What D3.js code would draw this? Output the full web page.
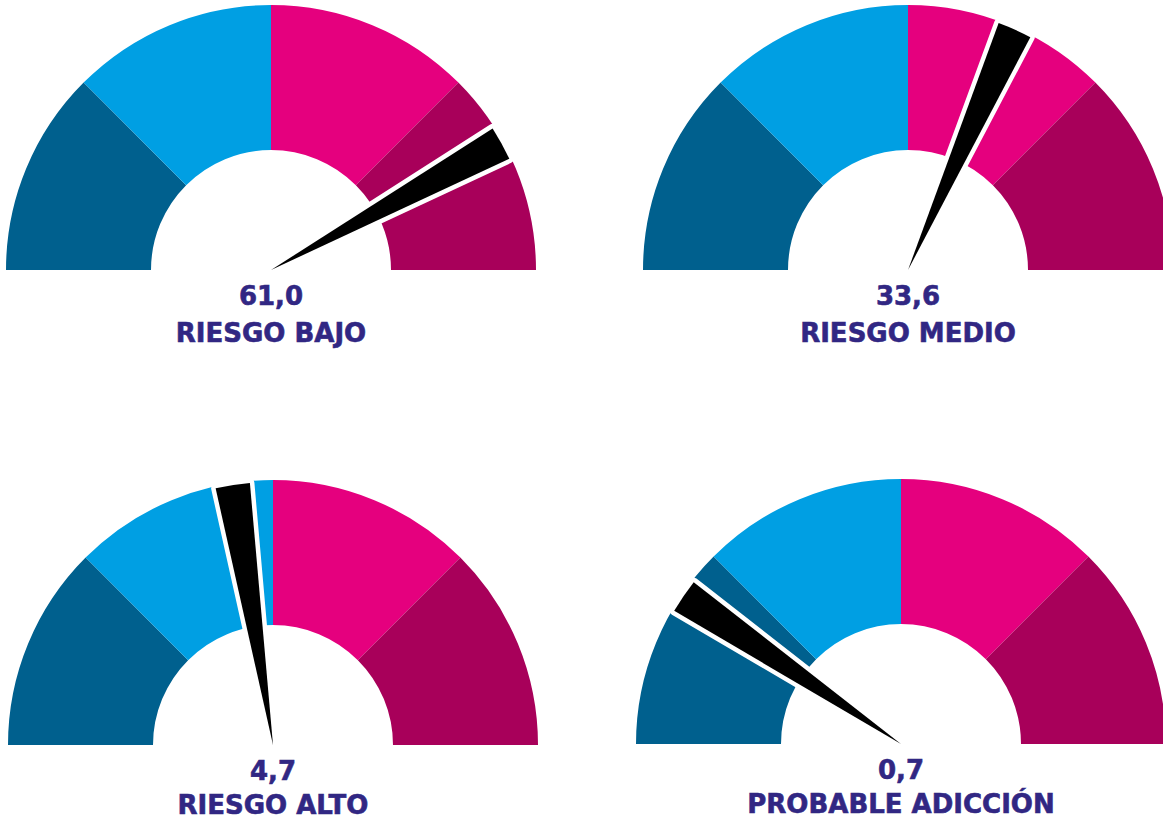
<!DOCTYPE html>
<html>
<head>
<meta charset="utf-8">
<script src="https://cdn.jsdelivr.net/npm/d3@7"></script>
<style>
  html, body { margin: 0; padding: 0; background: #ffffff; }
  svg { display: block; }
</style>
</head>
<body>
<svg id="chart" width="1163" height="820"></svg>
<script>
// ---- data ----
const gaugeLabels = ["RIESGO BAJO", "RIESGO MEDIO", "RIESGO ALTO", "PROBABLE ADICCIÓN"];
const gaugeValues = [61.0, 33.6, 4.7, 0.7];
// needle position on the gauge scale (0 = left end, 100 = right end), as drawn in the picture
const needlePositions = [84.0, 63.3, 45.1, 19.0];
const needleWidth = 4.2; // gauge units
const bandBreaks = [0, 25, 50, 75, 100];
const bandColors = ["#00608e", "#009fe3", "#e5007e", "#a8005a"];

// ---- layout ----
const centers = [[271, 270], [908, 270], [273, 745], [901, 744]];
const textY = [[305, 342], [305, 342], [780, 814], [779, 813]];
const outerR = 265, innerR = 120, needleR = 263;

const svg = d3.select("#chart");
const angle = d3.scaleLinear().domain([0, 100]).range([-Math.PI / 2, Math.PI / 2]);

const ringArc = d3.arc().innerRadius(innerR).outerRadius(outerR);
const needleArc = d3.arc().innerRadius(0).outerRadius(needleR);

gaugeLabels.forEach((label, i) => {
  const g = svg.append("g").attr("transform", `translate(${centers[i][0]},${centers[i][1]})`);
  const bands = d3.range(bandColors.length).map(k => ({
    startAngle: angle(bandBreaks[k]), endAngle: angle(bandBreaks[k + 1]), color: bandColors[k]
  }));
  g.selectAll("path.band").data(bands).join("path")
    .attr("class", "band")
    .attr("d", ringArc)
    .attr("fill", d => d.color);

  const n = {
    startAngle: angle(needlePositions[i] - needleWidth / 2),
    endAngle: angle(needlePositions[i] + needleWidth / 2)
  };
  g.append("path").attr("d", needleArc(n))
    .attr("fill", "#ffffff").attr("stroke", "#ffffff")
    .attr("stroke-width", 9).attr("stroke-linejoin", "round");
  g.append("path").attr("d", needleArc(n)).attr("fill", "#000000");

  const t = svg.append("g").attr("transform", `translate(${centers[i][0]},0)`);
  [d3.format(".1f")(gaugeValues[i]).replace(".", ","), label].forEach((txt, j) => {
    t.append("text").attr("x", 0).attr("y", textY[i][j])
      .attr("text-anchor", "middle")
      .style("font-family", "'DejaVu Sans', sans-serif")
      .style("font-weight", 700).style("font-size", "26px")
      .attr("fill", "#312783")
      .attr("stroke", "#312783").attr("stroke-width", 0.6)
      .text(txt);
  });
});
</script>
</body>
</html>
